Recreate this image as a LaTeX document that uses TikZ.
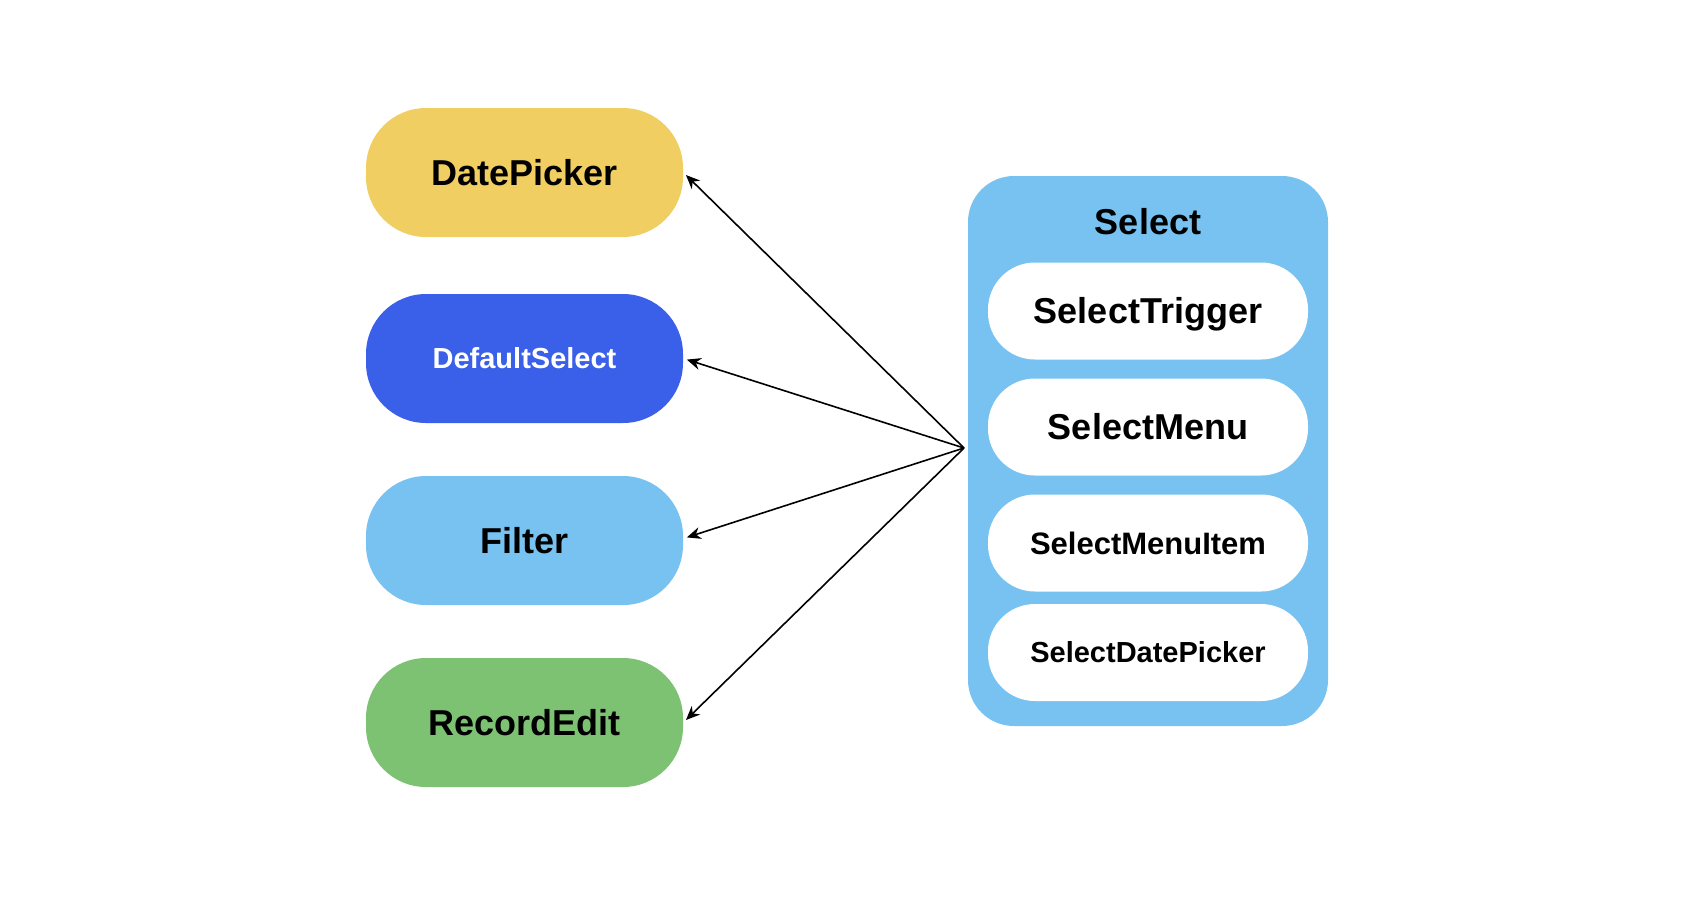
\documentclass[tikz,border=0pt]{standalone}
\usepackage{fontspec}
\setmainfont{Liberation Sans}
\usetikzlibrary{arrows.meta}
\definecolor{cyellow}{HTML}{F0CE62}
\definecolor{cblue}{HTML}{3A5FE8}
\definecolor{clight}{HTML}{77C2F0}
\definecolor{cgreen}{HTML}{7DC272}
\tikzset{
  fs/.style n args={2}{font=\fontsize{#1}{#1}\selectfont\bfseries, text height=#2, text depth=0pt},
  leftbox/.style={rectangle, rounded corners=30pt, minimum width=158.5pt, minimum height=64.5pt, inner sep=0pt, fs={18pt}{12.9pt}},
  outerbox/.style={rectangle, rounded corners=23pt, fill=clight, minimum width=180pt, minimum height=275pt, inner sep=0pt},
  innerbox/.style={rectangle, rounded corners=23.5pt, fill=white, minimum width=160pt, minimum height=48.5pt, inner sep=0pt},
  arr/.style={-{Stealth[length=7pt,width=6pt]}, line width=0.8pt, black, shorten >=1.8pt}
}
\begin{document}
\begin{tikzpicture}[x=0.5pt,y=-0.5pt]
\useasboundingbox (0,0) rectangle (1694,896);
\node[leftbox, fill=cyellow] (dp) at (524.5,172.5) {DatePicker};
\node[leftbox, fill=cblue, text=white, fs={14.5pt}{10.4pt}] (ds) at (524.5,358.5) {DefaultSelect};
\node[leftbox, fill=clight] (fi) at (524.5,540.5) {Filter};
\node[leftbox, fill=cgreen] (re) at (524.5,722.5) {RecordEdit};
\node[outerbox] (sel) at (1148,451) {};
\node[fs={18pt}{12.9pt}, inner sep=0pt] (seltitle) at (1148,222) {Select};
\node[innerbox, fs={18pt}{12.9pt}] (st) at (1148,311) {SelectTrigger};
\node[innerbox, fs={18pt}{12.9pt}] (sm) at (1148,427) {SelectMenu};
\node[innerbox, fs={15.5pt}{11.1pt}] (smi) at (1148,543) {SelectMenuItem};
\node[innerbox, fs={14.5pt}{10.4pt}] (sdp) at (1148,652.5) {SelectDatePicker};
\coordinate (hub) at (964,448);
\draw[arr] (hub) -- (dp.east);
\draw[arr] (hub) -- (ds.east);
\draw[arr] (hub) -- ([yshift=1pt]fi.east);
\draw[arr] (hub) -- (re.east);
\end{tikzpicture}
\end{document}
